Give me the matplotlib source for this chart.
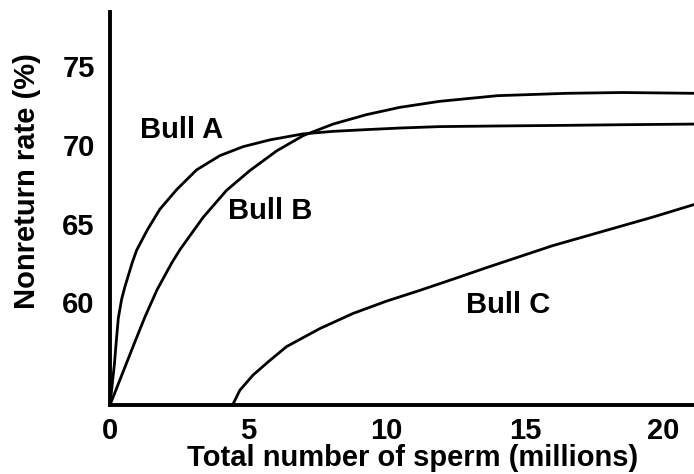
import matplotlib
matplotlib.use("Agg")
from matplotlib import pyplot as plt

# values
bull_a_x = [0, 0.08, 0.16, 0.23, 0.3, 0.42, 0.54, 0.8, 0.96, 1.35, 1.8, 2.41, 3.13, 3.97,
            4.81, 5.78, 6.98, 8.06, 9.27, 10.47, 11.9, 14.0, 16.5, 18.5, 21.1]
bull_a_y = [53.5, 54.8, 56.1, 57.6, 59.0, 60.2, 61.0, 62.5, 63.3, 64.6, 65.9, 67.15, 68.4, 69.3,
            69.87, 70.3, 70.68, 70.84, 70.95, 71.05, 71.14, 71.18, 71.22, 71.26, 71.3]

bull_b_x = [0, 0.54, 0.9, 1.26, 1.7, 2.23, 2.53, 3.37, 4.21, 5.05, 6.02, 6.98, 8.06,
            9.27, 10.47, 11.9, 14.0, 16.5, 18.5, 21.1]
bull_b_y = [53.5, 55.9, 57.5, 59.07, 60.8, 62.5, 63.35, 65.4, 67.1, 68.35, 69.6, 70.57, 71.3,
            71.9, 72.36, 72.74, 73.1, 73.25, 73.3, 73.25]

bull_c_x = [4.43, 4.69, 5.17, 5.78, 6.38, 7.58, 8.78, 9.99, 11.19, 12.39, 13.6, 14.8,
            16.0, 17.2, 18.4, 19.6, 21.1]
bull_c_y = [53.5, 54.43, 55.4, 56.33, 57.2, 58.34, 59.3, 60.08, 60.76, 61.47, 62.2, 62.9,
            63.6, 64.2, 64.8, 65.4, 66.2]

x_ticks = [0, 5, 10, 15, 20]
y_ticks = [60, 65, 70, 75]

labels = ['Bull A', 'Bull B', 'Bull C']
label_pos = [(1.08, 70.44), (4.26, 65.3), (12.88, 59.35)]

plt.rcParams['font.family'] = ['Liberation Sans', 'DejaVu Sans']
plt.rcParams['font.weight'] = 'bold'
fs = 21

fig = plt.figure(figsize=(6.94, 4.74), dpi=100)
ax = fig.add_axes([0.1585, 0.1456, 0.8415, 0.829])

for xs, ys in [(bull_a_x, bull_a_y), (bull_b_x, bull_b_y), (bull_c_x, bull_c_y)]:
    ax.plot(xs, ys, color='black', linewidth=2.0, solid_joinstyle='round')

for name, (tx, ty) in zip(labels, label_pos):
    ax.text(tx, ty, name, fontsize=fs, fontweight='bold', va='baseline', ha='left')

ax.set_xlim(0, 21.1)
ax.set_ylim(53.5, 78.4)
ax.set_xticks(x_ticks)
ax.set_yticks(y_ticks)
ax.tick_params(length=0, labelsize=fs)
ax.tick_params(axis='y', pad=11)
ax.tick_params(axis='x', pad=9)

for side in ['top', 'right']:
    ax.spines[side].set_visible(False)
for side in ['left', 'bottom']:
    ax.spines[side].set_linewidth(2.8)

ax.set_xlabel('Total number of sperm (millions)', fontsize=fs, fontweight='bold')
ax.set_ylabel('Nonreturn rate (%)', fontsize=fs, fontweight='bold')
ax.xaxis.set_label_coords(0.519, -0.1)
ax.yaxis.set_label_coords(-0.118, 0.57)

fig.savefig('out.png', dpi=100)
